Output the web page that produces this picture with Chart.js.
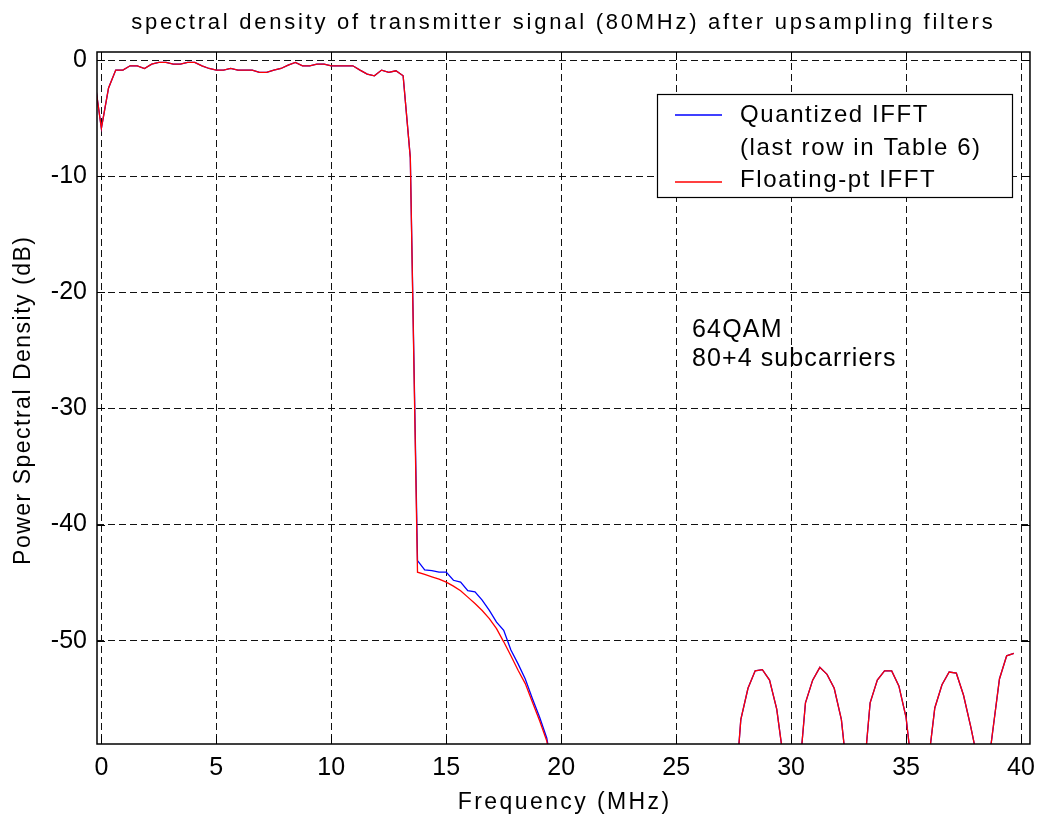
<!DOCTYPE html>
<html>
<head>
<meta charset="utf-8">
<script src="https://cdn.jsdelivr.net/npm/chart.js@4.4.1/dist/chart.umd.min.js"></script>
<style>
  html, body { margin: 0; padding: 0; background: #fff; }
  #wrap { width: 1044px; height: 819px; }
</style>
</head>
<body>
<div id="wrap"><canvas id="psd" width="1044" height="819"></canvas></div>
<script>
// frequency grid (MHz): first sample and spacing
const freqStart = -0.3125;
const freqStep = 0.3125;

// passband, shared by both curves (-0.3125 .. 13.4375 MHz)
const passband = [
  -1.4, -5.87, -2.4, -0.86, -0.86, -0.49, -0.49, -0.72, -0.34, -0.2,
  -0.2, -0.34, -0.34, -0.2, -0.2, -0.49, -0.72, -0.86, -0.86, -0.72,
  -0.86, -0.86, -0.86, -1.06, -1.06, -0.86, -0.72, -0.43, -0.2, -0.49,
  -0.49, -0.34, -0.34, -0.49, -0.49, -0.49, -0.49, -0.86, -1.2, -1.35,
  -0.86, -1.06, -0.92, -1.35, -8.4
];

// transition skirt (13.75 .. 19.6875 MHz)
const quantizedSkirt = [
  -43.1, -43.9, -43.96, -44.1, -44.1, -44.8, -44.96, -45.7, -45.8, -46.5,
  -47.4, -48.4, -49.1, -50.8, -52.0, -53.3, -55.0, -56.6, -58.4, -62.0
];
const floatingSkirt = [
  -44.1, -44.3, -44.5, -44.7, -44.96, -45.3, -45.7, -46.25, -46.8, -47.4,
  -48.1, -48.97, -50.1, -51.3, -52.55, -53.7, -55.3, -56.9, -58.65, -62.3
];

// stopband (20.0 .. 39.6875 MHz), null = below the plotted range
const stopband = [
  null, null, null, null, null, null, null, null, null, null,
  null, null, null, null, null, null, null, null, null, null,
  null, null, null, null,
  -65, -56.8, -54.1, -52.6, -52.5, -53.4, -55.9, -60.5, null,
  -62.5, -55.35, -53.4, -52.3, -52.9, -54.1, -56.8, -62.6, null,
  -62.4, -55.35, -53.4, -52.6, -52.6, -53.9, -56.6, -62.1, null,
  -61, -55.8, -53.8, -52.7, -52.8, -54.7, -57.4, -60.4, -63,
  -58.1, -53.3, -51.3, -51.1
];

const xTicks = [0, 5, 10, 15, 20, 25, 30, 35, 40];
const yTicks = [-50, -40, -30, -20, -10, 0];

const chartTitle = 'spectral density of transmitter signal (80MHz) after upsampling filters';
const xTitle = 'Frequency (MHz)';
const yTitle = 'Power Spectral Density (dB)';
const legendRows = ['Quantized IFFT', '(last row in Table 6)', 'Floating-pt IFFT'];
const noteLines = ['64QAM', '80+4 subcarriers'];

function toPoints(values) {
  return values.map((v, i) => ({ x: freqStart + i * freqStep, y: v }));
}

const quantized = toPoints(passband.concat(quantizedSkirt, stopband));
const floating = toPoints(passband.concat(floatingSkirt, stopband));

const FONT = '"Liberation Sans", Arial, sans-serif';

function spacedText(ctx, text, x, y, size, spacing, align) {
  ctx.save();
  ctx.font = `${size}px ${FONT}`;
  ctx.letterSpacing = spacing + 'px';
  ctx.fillStyle = '#000';
  ctx.textBaseline = 'alphabetic';
  const w = ctx.measureText(text).width - spacing;
  ctx.textAlign = 'left';
  const sx = align === 'center' ? x - w / 2 : x;
  ctx.fillText(text, sx, y);
  ctx.restore();
}

const decorations = {
  id: 'decorations',
  afterDraw(chart) {
    const { ctx, chartArea: a, scales } = chart;
    const xs = scales.x, ys = scales.y;

    // box + inner ticks on four sides
    ctx.save();
    ctx.strokeStyle = '#000';
    ctx.lineWidth = 1.5;
    ctx.strokeRect(a.left, a.top, a.right - a.left, a.bottom - a.top);
    ctx.lineWidth = 1;
    ctx.beginPath();
    xTicks.forEach((t) => {
      const px = Math.round(xs.getPixelForValue(t)) + 0.5;
      ctx.moveTo(px, a.bottom); ctx.lineTo(px, a.bottom - 8);
      ctx.moveTo(px, a.top); ctx.lineTo(px, a.top + 8);
    });
    yTicks.forEach((t) => {
      const py = Math.round(ys.getPixelForValue(t)) + 0.5;
      ctx.moveTo(a.left, py); ctx.lineTo(a.left + 8, py);
      ctx.moveTo(a.right, py); ctx.lineTo(a.right - 8, py);
    });
    ctx.stroke();
    ctx.restore();

    // titles
    spacedText(ctx, chartTitle, 562, 29, 22, 2.75, 'center');
    spacedText(ctx, xTitle, (a.left + a.right) / 2, 809, 23, 2.4, 'center');
    ctx.save();
    ctx.translate(30, (a.top + a.bottom) / 2 + 3);
    ctx.rotate(-Math.PI / 2);
    spacedText(ctx, yTitle, 0, 0, 23, 1.5, 'center');
    ctx.restore();

    // text note
    spacedText(ctx, noteLines[0], 692, 337, 25, 1.2, 'left');
    spacedText(ctx, noteLines[1], 692, 366, 25, 1.1, 'left');

    // legend
    ctx.save();
    ctx.fillStyle = '#fff';
    ctx.fillRect(657, 94, 355, 103);
    ctx.strokeStyle = '#000';
    ctx.lineWidth = 1.2;
    ctx.strokeRect(657.5, 94.5, 355, 103);
    ctx.lineWidth = 1.3;
    ctx.strokeStyle = '#0000ff';
    ctx.beginPath(); ctx.moveTo(675, 115); ctx.lineTo(722, 115); ctx.stroke();
    ctx.strokeStyle = '#ff0000';
    ctx.beginPath(); ctx.moveTo(675, 182); ctx.lineTo(722, 182); ctx.stroke();
    ctx.restore();
    spacedText(ctx, legendRows[0], 740, 122, 24, 1.6, 'left');
    spacedText(ctx, legendRows[1], 740, 155, 24, 1.6, 'left');
    spacedText(ctx, legendRows[2], 740, 187, 24, 1.6, 'left');
  }
};

new Chart(document.getElementById('psd'), {
  type: 'line',
  data: {
    datasets: [
      { label: legendRows[2], data: floating, borderColor: '#ff0000', borderWidth: 1.3, pointRadius: 0, tension: 0, spanGaps: false },
      { label: legendRows[0], data: quantized, borderColor: '#0000ff', borderWidth: 1.3, pointRadius: 0, tension: 0, spanGaps: false }
    ]
  },
  options: {
    responsive: false,
    animation: false,
    layout: { padding: { top: 52, right: 9, left: 0, bottom: 0 } },
    plugins: { legend: { display: false }, title: { display: false }, tooltip: { enabled: false } },
    scales: {
      x: {
        type: 'linear',
        min: -0.19,
        max: 40.39,
        afterFit: (s) => { s.height = 75; },
        afterBuildTicks: (s) => { s.ticks = xTicks.map((v) => ({ value: v })); },
        ticks: { font: { family: FONT, size: 25 }, color: '#000', padding: 9, maxRotation: 0, autoSkip: false },
        grid: { color: '#111', lineWidth: 1, drawTicks: false },
        border: { display: false, dash: [7, 4] }
      },
      y: {
        type: 'linear',
        min: -58.9,
        max: 0.7,
        afterFit: (s) => { s.width = 97; },
        afterBuildTicks: (s) => { s.ticks = yTicks.map((v) => ({ value: v })); },
        ticks: { font: { family: FONT, size: 25 }, color: '#000', padding: 10, autoSkip: false,
                 callback: (v) => String(v) },
        grid: { color: '#111', lineWidth: 1, drawTicks: false },
        border: { display: false, dash: [7, 4] }
      }
    }
  },
  plugins: [decorations]
});
</script>
</body>
</html>
